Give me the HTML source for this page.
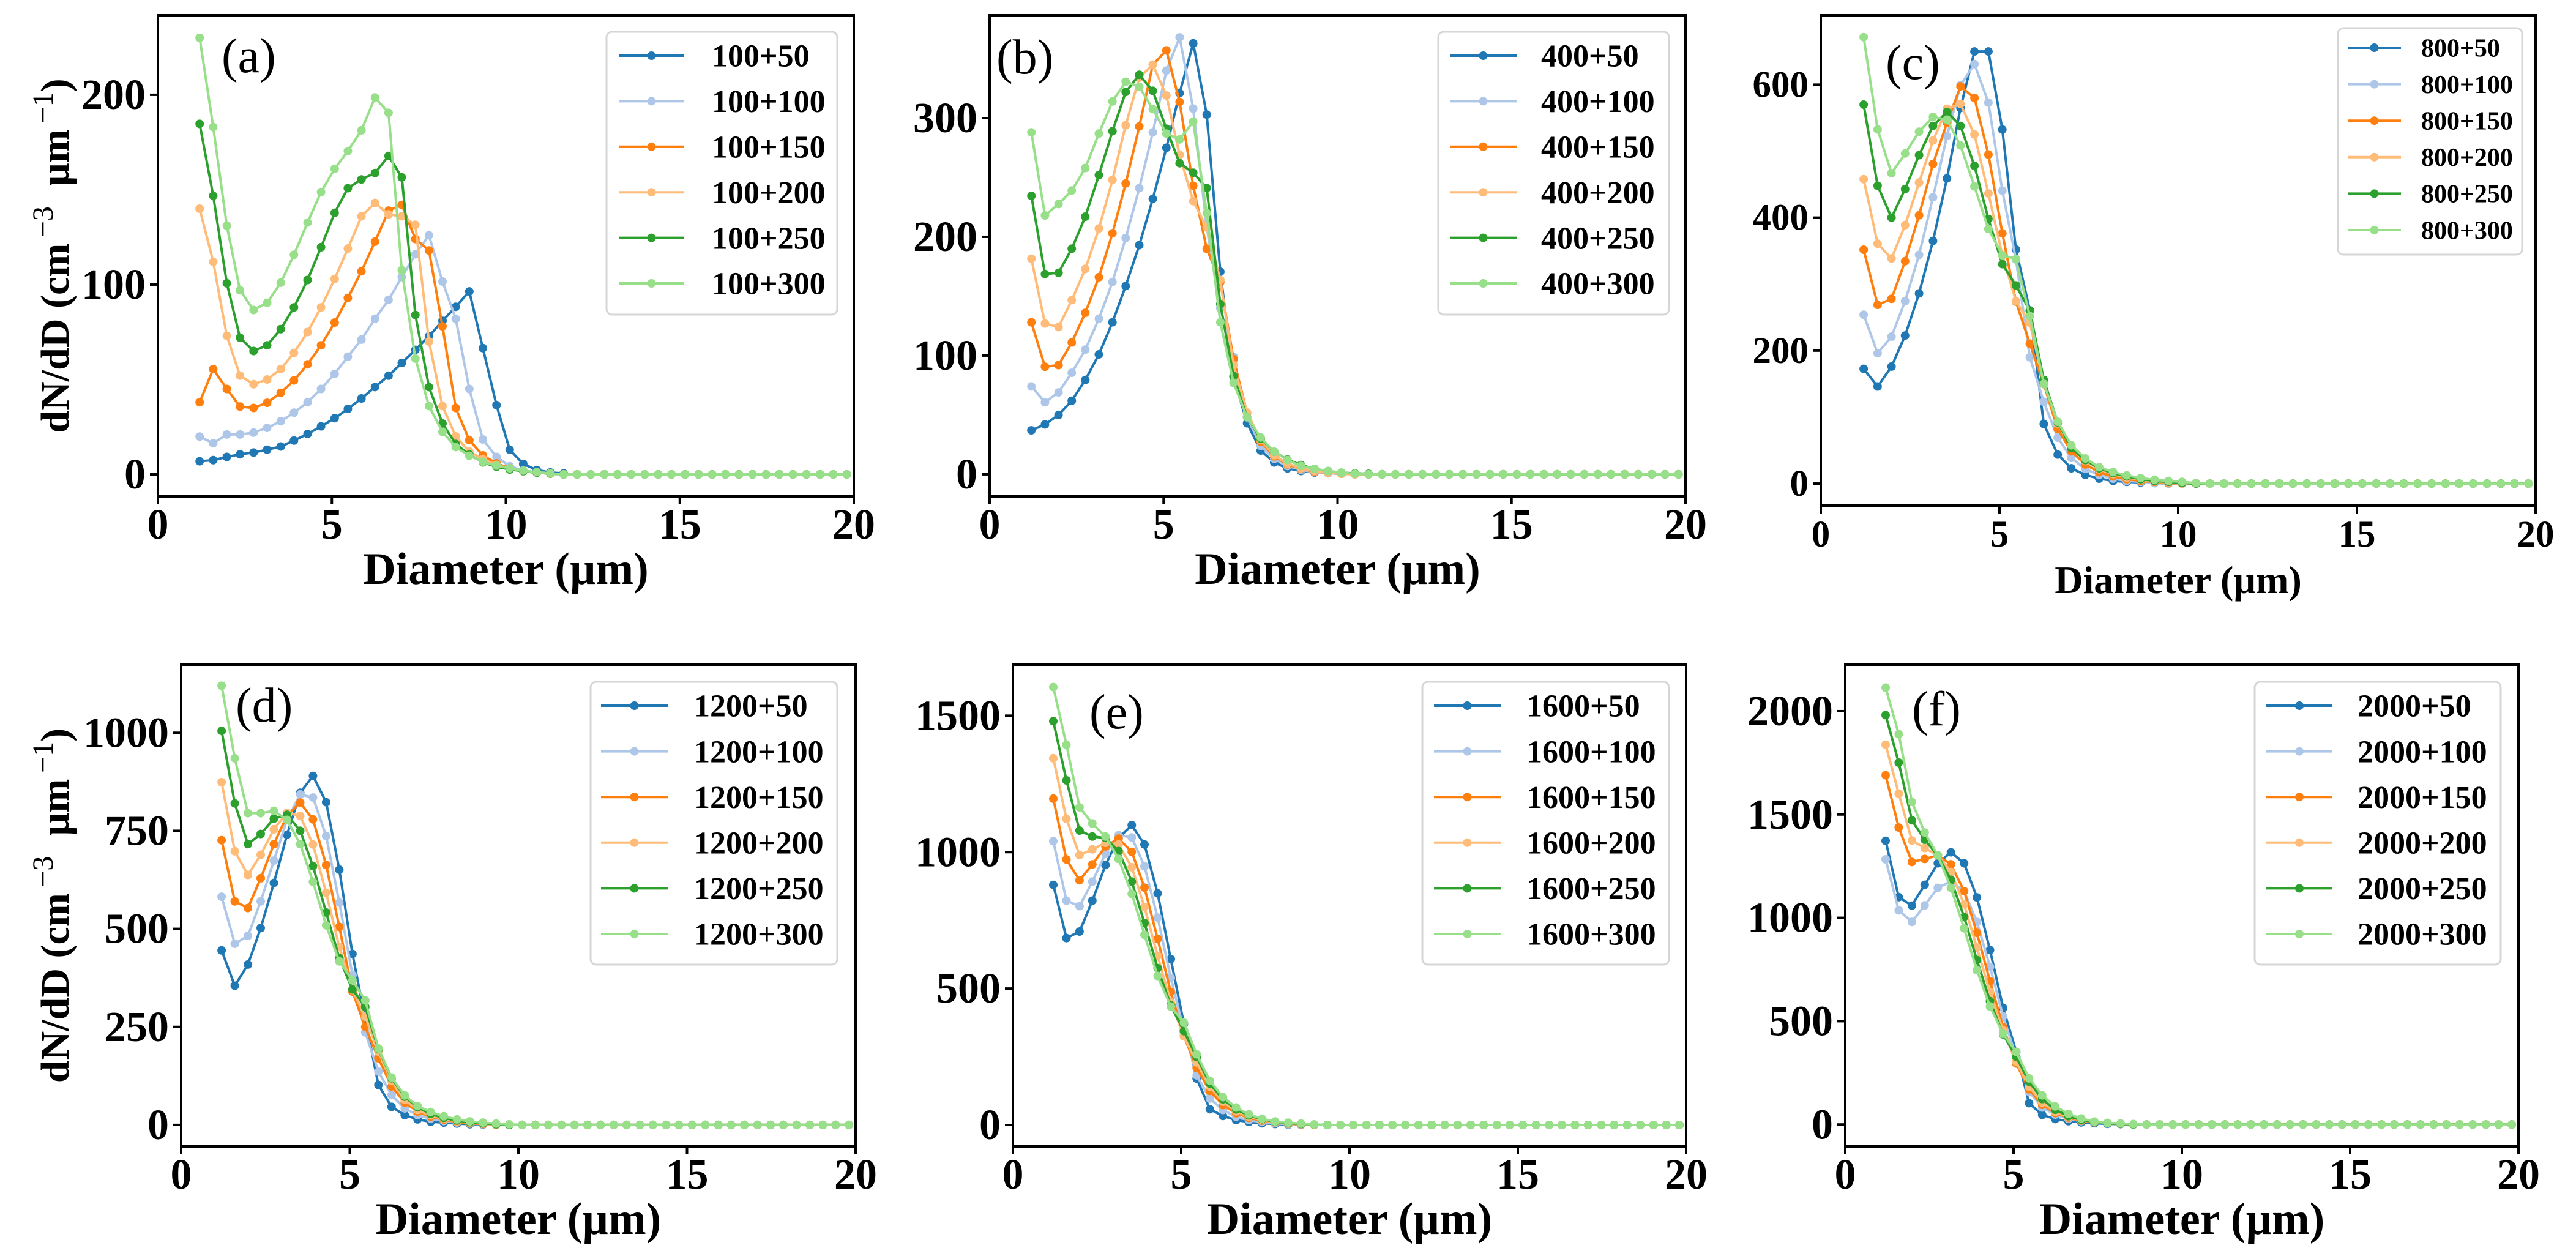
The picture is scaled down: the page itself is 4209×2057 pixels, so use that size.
<!DOCTYPE html>
<html><head><meta charset="utf-8"><title>dN/dD size distributions</title>
<style>
html,body{margin:0;padding:0;background:#fff;}
svg{display:block;font-family:"Liberation Serif","Times New Roman",serif;}
</style></head>
<body>
<svg id="fig" width="4209" height="2057" viewBox="0 0 4209 2057" xmlns="http://www.w3.org/2000/svg"></svg>
<script>
// ---- shared data ----
const diameters = [1.2,1.59,1.98,2.36,2.75,3.14,3.53,3.91,4.3,4.69,5.08,5.46,5.85,6.24,6.63,7.01,7.4,7.79,8.18,8.56,8.95,9.34,9.73,10.11,10.5,10.89,11.28,11.66,12.05,12.44,12.83,13.21,13.6,13.99,14.38,14.76,15.15,15.54,15.93,16.31,16.7,17.09,17.48,17.86,18.25,18.64,19.03,19.41,19.8];
const xTicks = [0,5,10,15,20];
const seriesSuffix = ["+50","+100","+150","+200","+250","+300"];
const seriesColors = ["#1f77b4","#aec7e8","#ff7f0e","#ffbb78","#2ca02c","#98df8a"];

// ---- panel (a) 100+ ----
const a1 = [6.9,7.5,9.2,10.6,11.5,13,14.7,17.8,21.3,25.3,29.6,34.5,40,46,52,58.7,65.6,72.8,80.9,88.3,96.4,66.5,36.5,13,5.5,2.3,1,0.5,0,0,0,0,0,0,0,0,0,0,0,0,0,0,0,0,0,0,0,0,0];
const a2 = [19.9,16.4,21,21,22,24.5,28,32.5,38,45,53,62,71,82,92,104,116,126,101.6,82,45,18.4,9.2,4.3,2,1,0.5,0,0,0,0,0,0,0,0,0,0,0,0,0,0,0,0,0,0,0,0,0,0];
const a3 = [38,55.5,45,35.7,35,37.7,43,49.5,58,68,80,93,107,122.6,139,142,124,118,78,35,18,10,5.8,3.2,1.7,0.9,0.4,0,0,0,0,0,0,0,0,0,0,0,0,0,0,0,0,0,0,0,0,0,0];
const a4 = [140,112,73,52,47.5,50,55.5,64,75,88,103,119,136,143,137,136,131.5,70,36,20,12,8,5,3,1.7,0.9,0.4,0,0,0,0,0,0,0,0,0,0,0,0,0,0,0,0,0,0,0,0,0,0];
const a5 = [184.7,146.8,100.7,72,65,68,76.5,88,102.4,119.7,137.8,150.8,155.4,158.8,167.8,156.5,84,46,26.8,16,10.4,6.3,4,2.6,1.7,0.9,0.4,0,0,0,0,0,0,0,0,0,0,0,0,0,0,0,0,0,0,0,0,0,0];
const a6 = [230,183,131,97,86.6,90.4,101,115.7,132.7,148.8,161,170.4,181.3,198.6,190.5,107.6,61,36,22.4,14.4,9.8,6.6,4.6,3.2,2,1.2,0.6,0,0,0,0,0,0,0,0,0,0,0,0,0,0,0,0,0,0,0,0,0,0];
const aTicks = [0,100,200];

// ---- panel (b) 400+ ----
const b1 = [37,42,50,62,79.5,101,128,158.6,193,232,275,321,363,303,170.6,82,43,20,10,5,2.8,1.4,0.9,0.5,0,0,0,0,0,0,0,0,0,0,0,0,0,0,0,0,0,0,0,0,0,0,0,0,0];
const b2 = [74,60.7,69,85.5,105,131,162,199,241,288,340,368,308,208,140,99,48,24,13,7,3.7,1.8,0.9,0.4,0,0,0,0,0,0,0,0,0,0,0,0,0,0,0,0,0,0,0,0,0,0,0,0,0];
const b3 = [128,90.6,92,111,136,166,203,245,293,345,357,313.6,243,190,162,97,51.5,27.6,15,8.3,4.6,2.3,1.4,0.5,0,0,0,0,0,0,0,0,0,0,0,0,0,0,0,0,0,0,0,0,0,0,0,0,0];
const b4 = [181.6,127,124,146.7,173,207,248,294,334,345,319,269,230,208,163.7,92,52,29,16,9,5,2.8,1.4,0.5,0,0,0,0,0,0,0,0,0,0,0,0,0,0,0,0,0,0,0,0,0,0,0,0,0];
const b5 = [234.5,168.7,169.7,190,217,252,289,322,336.5,323,291,262,254,241,143.4,82.8,48,30,19,12.4,7.8,4.6,2.8,1.4,0.9,0.4,0,0,0,0,0,0,0,0,0,0,0,0,0,0,0,0,0,0,0,0,0,0,0];
const b6 = [288,218,227.6,239,258,287,314,330.6,326.4,307.6,287,282,297,220,128,77,48,31,19,12,7,4.6,2.8,1.4,0.5,0,0,0,0,0,0,0,0,0,0,0,0,0,0,0,0,0,0,0,0,0,0,0,0];
const bTicks = [0,100,200,300];

// ---- panel (c) 800+ ----
const c1 = [172.6,146,176,222.7,286,365,459,565,650,650,532.6,352,260.5,89.6,43.6,23,13,7.4,4,2.5,1.6,0.8,0,0,0,0,0,0,0,0,0,0,0,0,0,0,0,0,0,0,0,0,0,0,0,0,0,0,0];
const c2 = [254,196,221,274.5,344,430.7,522.7,599,631,573,440.5,337,190,123,69,38.6,22,13,7.4,4,2.5,0.8,0,0,0,0,0,0,0,0,0,0,0,0,0,0,0,0,0,0,0,0,0,0,0,0,0,0,0];
const c3 = [351.8,268.8,277.8,334.5,403.6,480.8,542.5,597.5,580,494.8,376.4,273.7,210.4,149.6,82,48.5,28.8,17,10.7,6.6,4,2.5,0.8,0,0,0,0,0,0,0,0,0,0,0,0,0,0,0,0,0,0,0,0,0,0,0,0,0,0];
const c4 = [457.8,360.8,338.6,388.8,452.9,516,563.8,571,525,436.4,343.5,274.5,241.6,152,90.4,55,33.7,21.4,14,9,5.8,3.3,1.6,0,0,0,0,0,0,0,0,0,0,0,0,0,0,0,0,0,0,0,0,0,0,0,0,0,0];
const c5 = [570,448,400,443,494,538,559,538,478,398,330,298,260,156,92,53.4,35.3,23,15.6,10.7,6.6,4,2.5,0.8,0,0,0,0,0,0,0,0,0,0,0,0,0,0,0,0,0,0,0,0,0,0,0,0,0];
const c6 = [671.5,532.6,466.8,496.4,529.3,551.5,547.4,508.7,447,383,343.5,337.8,252,150,93,57.5,37.8,24.6,17.3,12.3,8.2,5.8,4,2.5,0.8,0,0,0,0,0,0,0,0,0,0,0,0,0,0,0,0,0,0,0,0,0,0,0,0];
const cTicks = [0,200,400,600];

// ---- panel (d) 1200+ ----
const d1 = [445,355,409,502,617,740,847,890,823,651,436,270,102,46,25,14,8,6,3.4,1.7,1,0,0,0,0,0,0,0,0,0,0,0,0,0,0,0,0,0,0,0,0,0,0,0,0,0,0,0,0];
const d2 = [582,462,482,570,674,778,843,835,737,567,382,236,136,76,42,25,16,10,6,3.4,1.7,0,0,0,0,0,0,0,0,0,0,0,0,0,0,0,0,0,0,0,0,0,0,0,0,0,0,0,0];
const d3 = [726,570,553,629,716,789,822,779,663,505,340,250,170,98,57,34,21,13,8,4,2.5,0,0,0,0,0,0,0,0,0,0,0,0,0,0,0,0,0,0,0,0,0,0,0,0,0,0,0,0];
const d4 = [874,698,637.5,689,754,796,788,715,592,454,344,276,187,112,64,38,24,15,9,6,3.4,0,0,0,0,0,0,0,0,0,0,0,0,0,0,0,0,0,0,0,0,0,0,0,0,0,0,0,0];
const d5 = [1005,820,716,742,781,791,750,660,541.6,425,345.5,301,193,119,72,45,28,18,11,7,4,1.5,0,0,0,0,0,0,0,0,0,0,0,0,0,0,0,0,0,0,0,0,0,0,0,0,0,0,0];
const d6 = [1120,935,795,795,801,778,716,620,509,417,369,317.5,195,121,75,48,33,22,14,9,6,3.4,1.5,0,0,0,0,0,0,0,0,0,0,0,0,0,0,0,0,0,0,0,0,0,0,0,0,0,0];
const dTicks = [0,250,500,750,1000];

// ---- panel (e) 1600+ ----
const e1 = [880,685,709,822,953,1052,1099,1028,849,608,371,170,58,33,18,11,6,3.6,1.2,0,0,0,0,0,0,0,0,0,0,0,0,0,0,0,0,0,0,0,0,0,0,0,0,0,0,0,0,0,0];
const e2 = [1040,822,802,892,994,1062,1054,948,760,539,347,182,97,55,30,18,11,6,2.4,0,0,0,0,0,0,0,0,0,0,0,0,0,0,0,0,0,0,0,0,0,0,0,0,0,0,0,0,0,0];
const e3 = [1196,973,897,955,1021,1050,1001,870,682,487,326,209,125,73,43,26,16,10,5,2,0,0,0,0,0,0,0,0,0,0,0,0,0,0,0,0,0,0,0,0,0,0,0,0,0,0,0,0,0];
const e4 = [1344,1122,989,1010,1034,1028,945,799,620,450,325,229,140,85,50,30,18,11,6,3,0,0,0,0,0,0,0,0,0,0,0,0,0,0,0,0,0,0,0,0,0,0,0,0,0,0,0,0,0];
const e5 = [1480,1263,1079,1057,1052,1004,892,740,575,438,344,249,152,94,57,35,21,12,7,3.6,1.5,0,0,0,0,0,0,0,0,0,0,0,0,0,0,0,0,0,0,0,0,0,0,0,0,0,0,0,0];
const e6 = [1605,1393,1164,1105,1057,975,847,697,546,434,375,259,162,102,64,39,23,13,8.5,5,2,0,0,0,0,0,0,0,0,0,0,0,0,0,0,0,0,0,0,0,0,0,0,0,0,0,0,0,0];
const eTicks = [0,500,1000,1500];

// ---- panel (f) 2000+ ----
const f1 = [1373,1100,1059,1160,1264,1317,1264,1099,844,565,351,103,46.5,26,16,10,6,3,1.6,0,0,0,0,0,0,0,0,0,0,0,0,0,0,0,0,0,0,0,0,0,0,0,0,0,0,0,0,0,0];
const f2 = [1283,1036,980,1060,1145,1177,1129,980,763,523,327,159,82,48,27,16,10,5,1.6,0,0,0,0,0,0,0,0,0,0,0,0,0,0,0,0,0,0,0,0,0,0,0,0,0,0,0,0,0,0];
const f3 = [1690,1437,1270,1285,1302,1259,1129,927,693,471,295,170,95,55,32,19,11,6,3,0,0,0,0,0,0,0,0,0,0,0,0,0,0,0,0,0,0,0,0,0,0,0,0,0,0,0,0,0,0];
const f4 = [1838,1601,1374,1338,1302,1222,1065,856,640,455,303,183,106,61,35,21,13,6,3,0,0,0,0,0,0,0,0,0,0,0,0,0,0,0,0,0,0,0,0,0,0,0,0,0,0,0,0,0,0];
const f5 = [1981,1751,1472,1378,1302,1184,1004,796,597,436,327,207,123,71,40,22,13,6,3,0,0,0,0,0,0,0,0,0,0,0,0,0,0,0,0,0,0,0,0,0,0,0,0,0,0,0,0,0,0];
const f6 = [2114,1889,1561,1413,1302,1145,949,747,571,439,351,223,141,87,51,29,14,8,5,2,0,0,0,0,0,0,0,0,0,0,0,0,0,0,0,0,0,0,0,0,0,0,0,0,0,0,0,0,0];
const fTicks = [0,500,1000,1500,2000];

const NS = "http://www.w3.org/2000/svg";
const svg = document.getElementById("fig");
function mk(tag, attrs, parent) {
  const el = document.createElementNS(NS, tag);
  for (const k in attrs) el.setAttribute(k, attrs[k]);
  (parent || svg).appendChild(el);
  return el;
}

const panels = [
  {id:"a", prefix:"100", series:[a1,a2,a3,a4,a5,a6], yTicks:aTicks, box:[258,1395,25,811], yr:[-11.6,241.9], big:true, ylabel:true,
   legend:{x:991,y:52,w:377,h:462,ly0:91,dy:74.4,l1:1011,l2:1118,tx:1163,fs:52}, letter:[362,118]},
  {id:"b", prefix:"400", series:[b1,b2,b3,b4,b5,b6], yTicks:bTicks, box:[1617,2754,25,811], yr:[-18.6,386.6], big:true,
   legend:{x:2350,y:52,w:377,h:462,ly0:91,dy:74.4,l1:2369,l2:2478,tx:2518,fs:52}, letter:[1628,120]},
  {id:"c", prefix:"800", series:[c1,c2,c3,c4,c5,c6], yTicks:cTicks, box:[2975,4143,25,826], yr:[-33.1,704.4], big:false,
   legend:{x:3820,y:46,w:301,h:370,ly0:78,dy:59.6,l1:3836,l2:3923,tx:3956,fs:42}, letter:[3081,129]},
  {id:"d", prefix:"1200", series:[d1,d2,d3,d4,d5,d6], yTicks:dTicks, box:[296,1398,1086,1873], yr:[-54.8,1173.7], big:true, ylabel:true,
   legend:{x:965,y:1114,w:403,h:462,ly0:1153,dy:74.6,l1:982,l2:1091,tx:1134,fs:52}, letter:[385,1179]},
  {id:"e", prefix:"1600", series:[e1,e2,e3,e4,e5,e6], yTicks:eTicks, box:[1655,2755,1086,1873], yr:[-78.5,1687], big:true,
   legend:{x:2324,y:1114,w:403,h:462,ly0:1153,dy:74.6,l1:2343,l2:2452,tx:2494,fs:52}, letter:[1780,1190]},
  {id:"f", prefix:"2000", series:[f1,f2,f3,f4,f5,f6], yTicks:fTicks, box:[3015,4115,1086,1873], yr:[-106,2225], big:true,
   legend:{x:3684,y:1114,w:402,h:462,ly0:1153,dy:74.6,l1:3703,l2:3811,tx:3852,fs:52}, letter:[3124,1185]}
];

panels.forEach(p => {
  const [L,R,T,B] = p.box;
  const xScale = v => L + (v - 0) / 20 * (R - L);
  const yScale = v => B - (v - p.yr[0]) / (p.yr[1] - p.yr[0]) * (B - T);
  const g = mk("g", {});
  
  
  const tickFs = p.big ? 70 : 61;
  const labFs = p.big ? 74 : 64;

  p.series.forEach((vals, si) => {
    const sg = mk("g", {}, g);
    
    
    const pts = vals.map((v, i) => xScale(diameters[i]).toFixed(1) + "," + yScale(v).toFixed(1)).join(" ");
    const pl = mk("polyline", {points: pts, fill: "none", stroke: seriesColors[si], "stroke-width": 4, "stroke-linejoin": "round"}, sg);
    
    
    vals.forEach((v, i) => {
      const c = mk("circle", {cx: xScale(diameters[i]).toFixed(1), cy: yScale(v).toFixed(1), r: 7, fill: seriesColors[si]}, sg);
      
      
    });
  });

  const fr = mk("rect", {x: L, y: T, width: R - L, height: B - T, fill: "none", stroke: "#000", "stroke-width": 4}, g);
  
  

  xTicks.forEach(t => {
    const x = xScale(t);
    const tl = mk("line", {x1: x, x2: x, y1: B, y2: B + 13, stroke: "#000", "stroke-width": 4}, g);
    
    
    const tx = mk("text", {x: x, y: B + (p.big ? 69 : 67), "text-anchor": "middle", "font-size": tickFs, "font-weight": "bold"}, g);
    tx.textContent = t;
    
    
  });
  p.yTicks.forEach(t => {
    const y = yScale(t);
    const tl = mk("line", {x1: L - 13, x2: L, y1: y, y2: y, stroke: "#000", "stroke-width": 4}, g);
    
    
    const tx = mk("text", {x: L - 20, y: y + tickFs * 0.33, "text-anchor": "end", "font-size": tickFs, "font-weight": "bold"}, g);
    tx.textContent = t;
    
    
  });

  const xl = mk("text", {x: (L + R) / 2, y: B + 143, "text-anchor": "middle", "font-size": labFs, "font-weight": "bold"}, g);
  xl.textContent = "Diameter (\u00b5m)";
  
  

  if (p.ylabel) {
    const cy = (T + B) / 2;
    const yl = mk("text", {x: 0, y: 0, transform: "translate(112," + cy + ") rotate(-90)", "text-anchor": "middle", "font-size": 66, "font-weight": "bold"}, g);
    
    
    const parts = [["dN/dD (cm",0],["\u2009\u22123",1],["\u2002\u00b5m",0],["\u2009\u22121",1],[")",0]];
    parts.forEach(([s, sup]) => {
      const ts = mk("tspan", sup ? {"font-size": 48, "font-weight": "normal"} : {}, yl);
      ts.textContent = s;
      if (sup) { ts.setAttribute("dy", -26); }
      if (!sup && s !== "dN/dD (cm") ts.setAttribute("dy", 26);
    });
  }

  const lt = mk("text", {x: p.letter[0], y: p.letter[1], "font-size": 80}, g);
  lt.textContent = "(" + p.id + ")";
  
  

  const lg = p.legend;
  const legG = mk("g", {}, g);
  
  
  mk("rect", {x: lg.x, y: lg.y, width: lg.w, height: lg.h, rx: 9, fill: "#fff", "fill-opacity": 0.8, stroke: "#d6d6d6", "stroke-width": 3}, legG);
  seriesSuffix.forEach((s, si) => {
    const y = lg.ly0 + si * lg.dy;
    const eg = mk("g", {}, legG);
    
    
    mk("line", {x1: lg.l1, x2: lg.l2, y1: y, y2: y, stroke: seriesColors[si], "stroke-width": 4}, eg);
    mk("circle", {cx: (lg.l1 + lg.l2) / 2, cy: y, r: 7, fill: seriesColors[si]}, eg);
    const t = mk("text", {x: lg.tx, y: y + lg.fs * 0.34, "font-size": lg.fs, "font-weight": "bold"}, eg);
    t.textContent = p.prefix + s;
  });
});
</script>
</body></html>
